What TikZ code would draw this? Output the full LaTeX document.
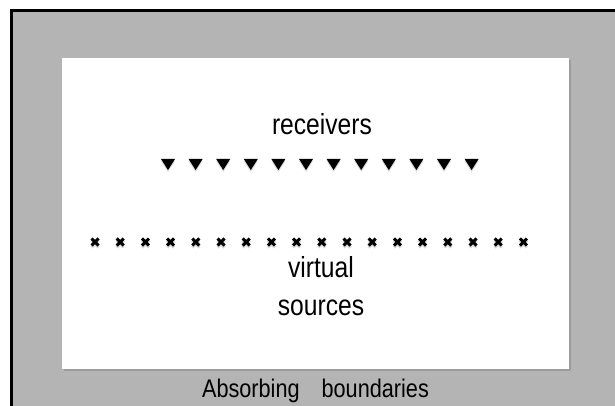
\documentclass[tikz,border=0pt]{standalone}
\usepackage{fontspec}
\setmainfont[FakeStretch=0.85]{Liberation Sans}
\usetikzlibrary{positioning,shadows}
\definecolor{boundary}{gray}{0.706}

\begin{document}
\begin{tikzpicture}[x=1pt,y=-1pt,node distance=0pt]
    \tikzstyle{caption} = [inner sep=0pt, align=center, font=\fontsize{29}{38}\selectfont]
    \tikzstyle{receiver} = [fill=black]
    \tikzstyle{source} = [draw=black, line width=3pt]
    \useasboundingbox (0,0) rectangle (615,406);
    \clip (0,0) rectangle (615,406);
    % absorbing layer with the frame cut off at right and bottom
    \draw[line width=3pt, fill=boundary] (11,11) rectangle (640,430);
    \node (domain) [rectangle, fill=white, inner sep=0pt, minimum width=507pt, minimum height=311pt,
        drop shadow={shadow xshift=2pt, shadow yshift=-2pt, opacity=0.45}] at (315.5,213.5) {};
    % receivers
    \node (rcvlabel) [caption, anchor=base] at (322,135) {receivers};
    \foreach \i in {0,...,11} {
        \fill[black, opacity=0.15] ({168+27.6*\i-7},161) -- ++(14,0) -- ++(-7,11) -- cycle;
        \fill[receiver] ({168+27.6*\i-7},159) -- ++(14,0) -- ++(-7,11) -- cycle;
    }
    % virtual sources
    \coordinate (srcrow) at (309,242);
    \foreach \i in {0,...,17} {
        \draw[source, opacity=0.15] ({95+25.2*\i-3.5},240.5) -- ++(7,7) ++(0,-7) -- ++(-7,7);
        \draw[source] ({95+25.2*\i-3.5},238.5) -- ++(7,7) ++(0,-7) -- ++(-7,7);
    }
    \node (srclabel) [caption, below=14pt of srcrow, xshift=12pt] {virtual\\sources};
    \node (abslabel) [caption, anchor=base, font=\fontsize{25.5}{28}\selectfont] at (315.5,397) {Absorbing\hspace{22pt}boundaries};
\end{tikzpicture}
\end{document}
